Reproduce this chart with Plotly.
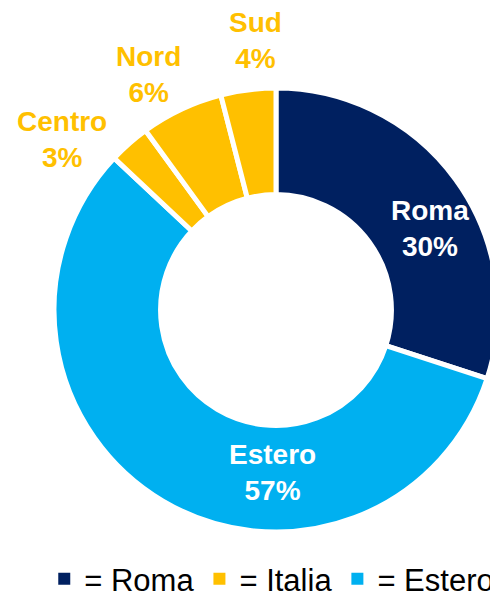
import plotly.graph_objects as go

labels = ["Roma", "Estero", "Centro", "Nord", "Sud"]
values = [30, 57, 3, 6, 4]
slice_colors = ["#002060", "#00B0F0", "#FFC000", "#FFC000", "#FFC000"]
label_colors = ["#FFFFFF", "#FFFFFF", "#FFC000", "#FFC000", "#FFC000"]

# label centre positions in window pixels (layout only)
label_pos = {"Roma": (430, 228), "Estero": (272, 472),
             "Centro": (62, 139), "Nord": (148, 74), "Sud": (256, 40)}

legend_names = ["= Roma", "= Italia", "= Estero"]
legend_colors = ["#002060", "#FFC000", "#00B0F0"]

OFF = 8  # default page body margin
W, H = 498 - OFF, 603 - OFF
FONT = "Liberation Sans, Arial, sans-serif"

fig = go.Figure()
fig.add_trace(go.Pie(
    labels=labels, values=values, sort=False, direction="clockwise", rotation=0,
    hole=0.52,
    marker=dict(colors=slice_colors, line=dict(color="white", width=5)),
    textinfo="none",
    showlegend=False,
    domain=dict(x=[0.0939, 1.0], y=[0.1193, 0.8655]),
    hoverinfo="skip",
))

for l, v, c in zip(labels, values, label_colors):
    px, py = label_pos[l]
    fig.add_annotation(
        x=(px - OFF) / W, y=1 - (py - OFF) / H, xref="paper", yref="paper",
        text=f"{l}<br>{v}%", showarrow=False, xanchor="center", yanchor="middle",
        font=dict(family=FONT, size=28, color=c, weight="bold"),
    )

for name, col in zip(legend_names, legend_colors):
    fig.add_trace(go.Scatter(
        x=[None], y=[None], mode="markers", name=name,
        marker=dict(symbol="square", size=14, color=col),
    ))

fig.update_layout(
    width=W, height=H,
    margin=dict(l=0, r=0, t=0, b=0, autoexpand=False),
    paper_bgcolor="white", plot_bgcolor="white",
    xaxis=dict(visible=False), yaxis=dict(visible=False),
    showlegend=True,
    legend=dict(
        orientation="h", x=0.074, xanchor="left", y=-0.005, yanchor="bottom",
        font=dict(family=FONT, size=31, color="#000000"),
        itemsizing="constant", tracegroupgap=0, bgcolor="rgba(0,0,0,0)",
    ),
)

fig.write_html("out.html")
